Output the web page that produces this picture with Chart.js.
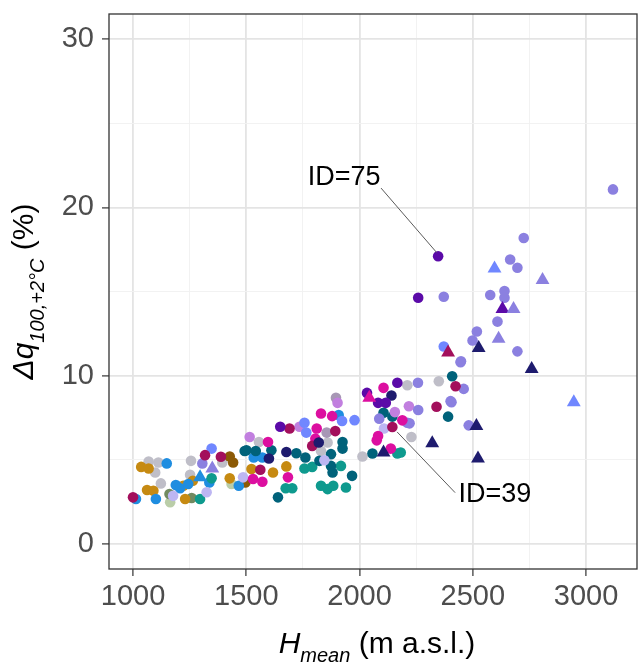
<!DOCTYPE html>
<html>
<head>
<meta charset="utf-8">
<script src="https://cdn.jsdelivr.net/npm/chart.js@4.4.1/dist/chart.umd.min.js"></script>
<style>
  html, body { margin: 0; padding: 0; background: #fff; }
</style>
</head>
<body>
<canvas id="chart" width="638" height="671"></canvas>
<script>
// axis ticks (minor ones get a grid line but no label)
const xTicks = [1000, 1250, 1500, 1750, 2000, 2250, 2500, 2750, 3000];
const yTicks = [0, 5, 10, 15, 20, 25, 30];
const xMajor = [1000, 1500, 2000, 2500, 3000];
const yMajor = [0, 10, 20, 30];

// points: [H_mean, dq]
const grey = [[1069,4.89],[1112,4.83],[1098,4.24],[1123,3.59],[1256,4.93],[1252,4.10],[1394,4.83],
  [1556,6.05],[1859,6.02],[1830,5.52],[2013,5.19],[2211,9.43],[2229,6.35],[2350,9.66]];
const orange = [[1036,4.57],[1069,4.48],[1062,3.20],[1090,3.15],[1222,3.45],[1230,2.66],[1264,3.75],
  [1427,3.89],[1523,4.44],[1618,4.24],[1677,4.60]];
const brown = [[1427,5.19],[1442,4.83],[1496,3.65]];
const blue = [[1013,2.66],[1149,4.78],[1101,2.66],[1189,3.49],[1208,3.30],[1244,3.55],[1337,3.65],
  [1467,3.45],[1533,5.13],[1571,5.13],[1908,7.65]];
const teal = [[1296,2.66],[1347,3.89],[1674,3.30],[1703,3.30],[1757,4.48],[1791,4.57],[1918,4.63],
  [1830,3.45],[1859,3.25],[1884,3.45],[1940,3.35],[2167,5.37],[2182,5.43]];
const darkTeal = [[1493,5.52],[1501,5.56],[1542,5.52],[1611,5.56],[1721,5.38],[1761,5.13],[1823,4.93],
  [1874,5.33],[1874,4.63],[1881,4.24],[1925,6.05],[1925,5.66],[1640,2.76],[1967,4.04],[2057,5.37],
  [2106,7.79],[2145,7.56],[2409,9.96],[2391,7.56]];
const magenta = [[1596,6.05],[1530,3.85],[1571,3.69],[1684,3.95],[1830,7.75],[1879,7.59],[1811,6.85],
  [1805,6.25],[2106,9.27],[2189,7.34],[2082,6.41],[2076,6.15],[2138,5.66]];
const crimson = [[1000,2.76],[1318,5.27],[1388,5.17],[1562,4.40],[1691,6.85],[1893,6.70],[1791,5.82],
  [2145,6.94],[2340,8.15],[2424,9.37]];
const purple = [[1650,6.96],[2167,9.57],[2033,8.97],[2082,8.38],[2116,8.38],[2259,14.63],[2347,17.10]];
const navy = [[1600,5.07],[1677,5.46],[1820,6.02],[2141,8.82]];
const lavender = [[1306,4.78],[2258,9.57],[2446,10.79],[2402,8.48],[2259,7.95],[2211,7.20],[2221,7.16],
  [2482,7.04],[2406,8.42],[2460,9.21],[3119,21.07],[2725,18.18],[2665,16.90],[2697,16.41],[2372,14.69],
  [2577,14.79],[2640,15.03],[2640,14.63],[2609,13.21],[2518,12.62],[2499,12.09],[2697,11.44],
  [2448,10.85],[2087,7.44]];
const paleLavender = [[1325,3.06],[1177,2.85],[1845,4.97],[2108,6.85],[1486,3.95]];
const periwinkle = [[1347,5.66],[1757,7.20],[1765,6.61],[1923,7.30],[1978,7.35],[2372,11.73]];
const orchid = [[1735,6.96],[1515,6.35],[1903,8.38],[2156,7.83],[2218,8.18]];
const mauve = [[1896,8.68],[1855,6.61]];
const olive = [[1161,2.96],[1259,2.72]];
const sage = [[1164,2.47],[1435,3.55]];

// triangles
const navyTri = [[2106,5.43],[2321,5.98],[2516,7.00],[2523,5.07],[2526,11.64],[2760,10.39]];
const lavenderTri = [[1350,4.48],[2808,15.68],[2680,13.96],[2614,12.19]];
const periwinkleTri = [[2596,16.37],[2946,8.42]];
const purpleTri = [[2631,13.96]];
const crimsonTri = [[2391,11.38]];
const magentaTri = [[2043,8.68]];
const blueTri = [[1296,3.95]];

// labelled catchments
const labelText = ['ID=75', 'ID=39'];
const labelX = [1932, 2598];
const labelY = [21.8, 2.9];
const seg75 = [[2095, 21.15], [2341, 17.31]];
const seg39 = [[2422, 3.04], [2166, 6.65]];

const FONT = "'Liberation Sans', Arial, sans-serif";
const toXY = arr => arr.map(p => ({ x: p[0], y: p[1] }));

const series = [
  [navyTri, '#1E1B6E', 'triangle'],
  [lavenderTri, '#8B80E0', 'triangle'],
  [periwinkleTri, '#7087FF', 'triangle'],
  [purpleTri, '#5B0AA8', 'triangle'],
  [crimsonTri, '#A30F5C', 'triangle'],
  [magentaTri, '#DC0FA0', 'triangle'],
  [blueTri, '#1F8DE0', 'triangle'],
  [purple, '#5B0AA8', 'circle'],
  [navy, '#1E1B6E', 'circle'],
  [crimson, '#A30F5C', 'circle'],
  [magenta, '#DC0FA0', 'circle'],
  [lavender, '#8B80E0', 'circle'],
  [periwinkle, '#7087FF', 'circle'],
  [orchid, '#C17FDF', 'circle'],
  [mauve, '#A797B5', 'circle'],
  [paleLavender, '#BDB6F2', 'circle'],
  [darkTeal, '#00627A', 'circle'],
  [teal, '#0E9A8E', 'circle'],
  [blue, '#1F8DE0', 'circle'],
  [brown, '#8C5A06', 'circle'],
  [orange, '#C68A12', 'circle'],
  [olive, '#708A60', 'circle'],
  [sage, '#BACDA8', 'circle'],
  [grey, '#BFBEC8', 'circle'],
];

const datasets = [
  { type: 'line', data: toXY(seg75), borderColor: '#5a5a5a', borderWidth: 1, pointRadius: 0, showLine: true },
  { type: 'line', data: toXY(seg39), borderColor: '#5a5a5a', borderWidth: 1, pointRadius: 0, showLine: true },
].concat(series.map(([pts, color, shape]) => ({
  data: toXY(pts),
  backgroundColor: color,
  borderWidth: 0,
  pointStyle: shape,
  pointRadius: shape === 'triangle' ? 8 : 5.3,
  pointHoverRadius: shape === 'triangle' ? 8 : 5.3,
})));

const isMajor = (list, v) => list.includes(v);
// keep Chart.js from reserving room for overhanging tick labels
const noPadding = s => { s.paddingLeft = 0; s.paddingRight = 0; s.paddingTop = 0; s.paddingBottom = 0; };

const decorations = {
  id: 'decorations',
  afterDatasetsDraw(chart) {
    const { ctx, chartArea: a, scales: { x, y } } = chart;
    ctx.save();
    ctx.strokeStyle = '#333333';
    ctx.lineWidth = 1.3;
    ctx.strokeRect(a.left, a.top, a.right - a.left, a.bottom - a.top);

    ctx.fillStyle = '#000';
    ctx.font = `27px ${FONT}`;
    ctx.textAlign = 'center';
    ctx.textBaseline = 'middle';
    labelText.forEach((t, i) => ctx.fillText(t, x.getPixelForValue(labelX[i]), y.getPixelForValue(labelY[i])));
    ctx.restore();
  },
  afterDraw(chart) {
    const { ctx, chartArea: a } = chart;
    const big = `30px ${FONT}`, bigIt = `italic 30px ${FONT}`, subIt = `italic 20px ${FONT}`;

    const drawParts = (parts, startX, baseY) => {
      let cx = startX;
      parts.forEach(([text, font, dy]) => {
        ctx.font = font;
        ctx.fillText(text, cx, baseY + dy);
        cx += ctx.measureText(text).width;
      });
    };
    const widthOf = parts => parts.reduce((w, [text, font]) => { ctx.font = font; return w + ctx.measureText(text).width; }, 0);

    ctx.save();
    ctx.fillStyle = '#000';
    ctx.textAlign = 'left';
    ctx.textBaseline = 'alphabetic';

    // x title: H_mean (m a.s.l.)
    const xParts = [['H', bigIt, 0], ['mean', subIt, 9], [' (m a.s.l.)', big, 0]];
    const xw = widthOf(xParts);
    drawParts(xParts, (a.left + a.right) / 2 - xw / 2 + 4, 653);

    // y title: Δq_100,+2°C (%)
    const yParts = [['\u0394q', bigIt, 0], ['100,+2\u00B0C', subIt, 11], [' (%)', big, 0]];
    const yw = widthOf(yParts);
    ctx.translate(33, (a.top + a.bottom) / 2);
    ctx.rotate(-Math.PI / 2);
    drawParts(yParts, -yw / 2, 0);
    ctx.restore();
  }
};

new Chart(document.getElementById('chart'), {
  type: 'scatter',
  data: { datasets },
  options: {
    responsive: false,
    devicePixelRatio: 1,
    animation: false,
    layout: { autoPadding: false, padding: { top: 14, right: 1, left: 0, bottom: 0 } },
    plugins: { legend: { display: false }, tooltip: { enabled: false } },
    scales: {
      x: {
        type: 'linear',
        min: 894,
        max: 3225,
        afterBuildTicks: s => { s.ticks = xTicks.map(v => ({ value: v })); },
        afterFit: s => { s.height = 102; noPadding(s); },
        border: { display: false },
        grid: {
          color: c => isMajor(xMajor, c.tick.value) ? '#E4E4E4' : '#F1F1F1',
          lineWidth: c => isMajor(xMajor, c.tick.value) ? 1.8 : 0.9,
          tickColor: c => isMajor(xMajor, c.tick.value) ? '#333333' : 'rgba(0,0,0,0)',
          tickWidth: 1.2,
          tickLength: 7,
        },
        ticks: {
          autoSkip: false,
          maxRotation: 0,
          padding: 4,
          color: '#4D4D4D',
          font: { family: FONT, size: 29 },
          callback: v => isMajor(xMajor, v) ? String(v) : '',
        },
      },
      y: {
        type: 'linear',
        min: -1.5,
        max: 31.5,
        afterBuildTicks: s => { s.ticks = yTicks.map(v => ({ value: v })); },
        afterFit: s => { s.width = 109; noPadding(s); },
        border: { display: false },
        grid: {
          color: c => isMajor(yMajor, c.tick.value) ? '#E4E4E4' : '#F1F1F1',
          lineWidth: c => isMajor(yMajor, c.tick.value) ? 1.8 : 0.9,
          tickColor: c => isMajor(yMajor, c.tick.value) ? '#333333' : 'rgba(0,0,0,0)',
          tickWidth: 1.2,
          tickLength: 7,
        },
        ticks: {
          autoSkip: false,
          padding: 8,
          color: '#4D4D4D',
          font: { family: FONT, size: 29 },
          callback: v => isMajor(yMajor, v) ? String(v) : '',
        },
      },
    },
  },
  plugins: [decorations],
});
</script>
</body>
</html>
